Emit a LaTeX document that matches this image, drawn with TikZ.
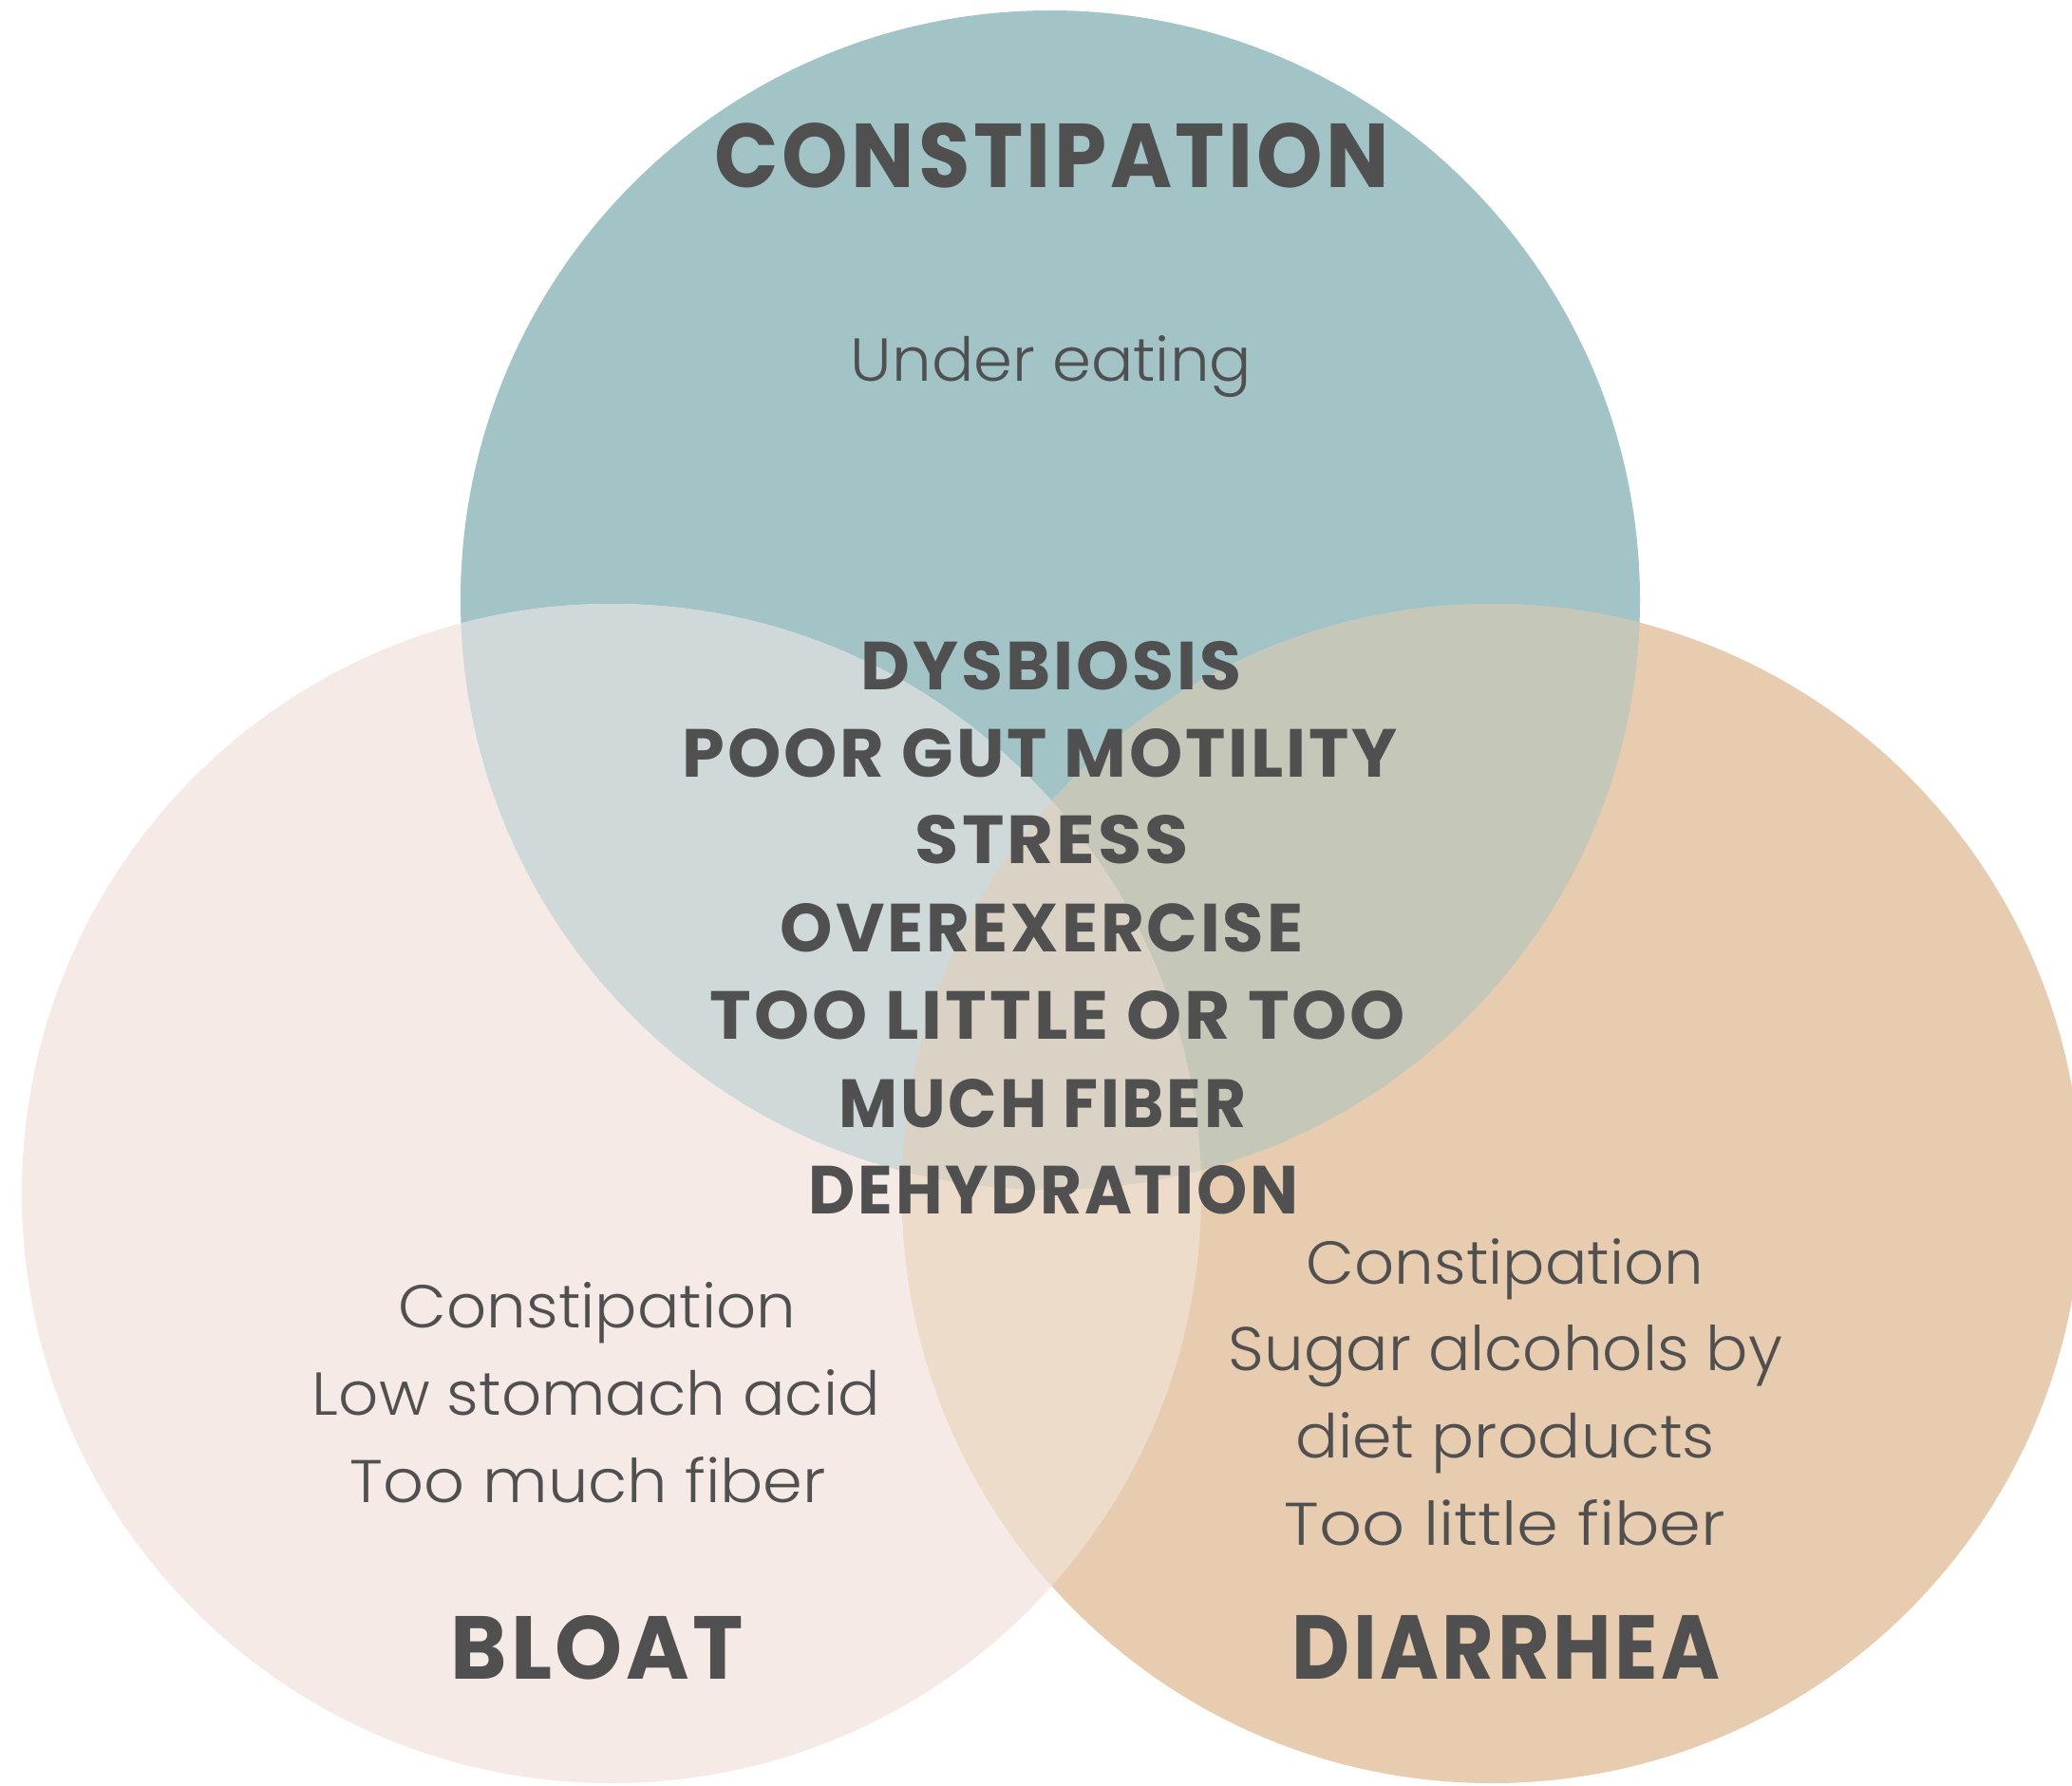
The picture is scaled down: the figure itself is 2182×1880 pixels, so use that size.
\documentclass[tikz,border=0pt]{standalone}
\usepackage{fontspec}
\usepackage{graphicx}
\setmainfont{Poppins}
\newfontfamily\lightfont{Poppins Light}
\newfontfamily\heavyfont{Poppins Bold}[LetterSpace=4]
\definecolor{cTop}{HTML}{A3C4C6}
\definecolor{cLft}{HTML}{F5EAE6}
\definecolor{cRgt}{HTML}{E7CCAF}
\definecolor{cTL}{HTML}{CFD9DA}
\definecolor{cTR}{HTML}{C5C7B9}
\definecolor{cLR}{HTML}{EEDCCB}
\definecolor{cAll}{HTML}{DAD2C4}
\definecolor{cTxt}{HTML}{505050}
\newcommand\bfit[3]{\resizebox{#1pt}{#2pt}{\heavyfont #3}}
\newcommand\lfit[3]{\resizebox{#1pt}{#2pt}{\lightfont #3}}
\tikzset{lbl/.style={inner sep=0pt, outer sep=0pt, anchor=base, text=cTxt}}
\begin{document}
\begin{tikzpicture}[x=1pt,y=-1pt]
\useasboundingbox (0,0) rectangle (2182,1880);
\clip (0,0) rectangle (2182,1880);
\fill[white] (0,0) rectangle (2182,1880);
\def\R{621pt}
\coordinate (T) at (1106,632);
\coordinate (L) at (644,1257);
\coordinate (Rt) at (1571,1257);
\fill[cTop] (T) circle[radius=\R];
\fill[cLft] (L) circle[radius=\R];
\fill[cRgt] (Rt) circle[radius=\R];
\begin{scope}
  \clip (L) circle[radius=\R];
  \fill[cTL] (T) circle[radius=\R];
\end{scope}
\begin{scope}
  \clip (Rt) circle[radius=\R];
  \fill[cTR] (T) circle[radius=\R];
\end{scope}
\begin{scope}
  \clip (Rt) circle[radius=\R];
  \fill[cLR] (L) circle[radius=\R];
\end{scope}
\begin{scope}
  \clip (Rt) circle[radius=\R];
  \clip (L) circle[radius=\R];
  \fill[cAll] (T) circle[radius=\R];
\end{scope}
% titles
\node[lbl] (title) at (1108,197) {\bfit{710}{68}{CONSTIPATION}};
\node[lbl] (bloat) at (629,1768) {\bfit{308}{67}{BLOAT}};
\node[lbl] (diarrhea) at (1586,1768) {\bfit{450}{67}{DIARRHEA}};
% top
\node[lbl] (under) at (1107,401) {\lfit{422}{48}{Under eating}};
% center
\node[lbl] (c1) at (1107,726) {\bfit{400}{51}{DYSBIOSIS}};
\node[lbl] (c2) at (1095.5,818) {\bfit{753}{51}{POOR GUT MOTILITY}};
\node[lbl] (c3) at (1108,909) {\bfit{288}{51}{STRESS}};
\node[lbl] (c4) at (1097,1002) {\bfit{550}{51}{OVEREXERCISE}};
\node[lbl] (c5) at (1114,1094) {\bfit{732}{51}{TOO LITTLE OR TOO}};
\node[lbl] (c6) at (1098,1187) {\bfit{428}{51}{MUCH FIBER}};
\node[lbl] (c7) at (1109.5,1278) {\bfit{515}{51}{DEHYDRATION}};
% bottom left
\node[lbl] (l1) at (629,1398) {\lfit{418}{48}{Constipation}};
\node[lbl] (l2) at (628,1490) {\lfit{598}{48}{Low stomach acid}};
\node[lbl] (l3) at (619.5,1582) {\lfit{501}{48}{Too much fiber}};
% bottom right
\node[lbl] (r1) at (1585,1352) {\lfit{418}{48}{Constipation}};
\node[lbl] (r2) at (1585.5,1443) {\lfit{583}{48}{Sugar alcohols by}};
\node[lbl] (r3) at (1585,1535) {\lfit{442}{48}{diet products}};
\node[lbl] (r4) at (1585,1627) {\lfit{464}{48}{Too little fiber}};
\end{tikzpicture}
\end{document}
